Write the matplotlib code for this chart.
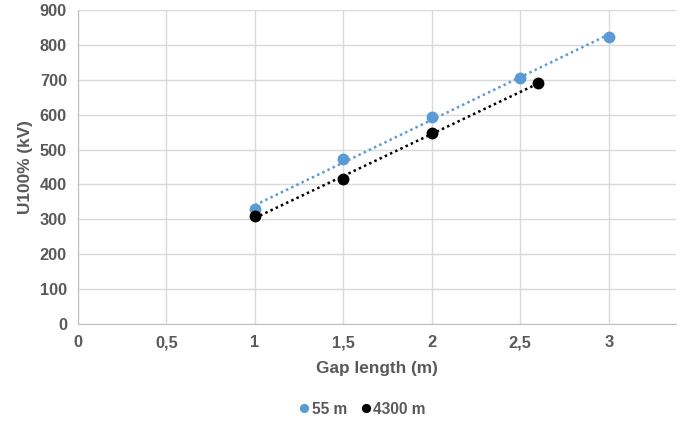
import numpy as np
import matplotlib
matplotlib.use("Agg")
import matplotlib.pyplot as plt
from matplotlib.ticker import FuncFormatter, MultipleLocator

plt.rcParams['font.family'] = ['Liberation Sans', 'DejaVu Sans']

x_55 = [1.0, 1.5, 2.0, 2.5, 3.0]
y_55 = [329, 473, 594, 706, 824]
x_4300 = [1.0, 1.5, 2.0, 2.6]
y_4300 = [309, 415, 548, 690]
labels = ["55 m", "4300 m"]
colors = ["#5B9BD5", "#000000"]

fig = plt.figure(figsize=(6.83, 4.26), dpi=100)
ax = fig.add_axes([78/683, 1-324/426, (676-78)/683, (324-10)/426])

gray = "#595959"
grid = "#D9D9D9"

for xs, ys, lab, c in [(x_55, y_55, labels[0], colors[0]), (x_4300, y_4300, labels[1], colors[1])]:
    xs = np.array(xs); ys = np.array(ys)
    p = np.polyfit(xs, ys, 1)
    xl = np.array([xs.min(), xs.max()])
    ax.plot(xl, np.polyval(p, xl), linestyle=(0, (1, 1.3)), color=c, lw=1.8, zorder=2)
    ax.plot(xs, ys, 'o', color=c, ms=7.5, label=lab, zorder=3, linestyle='none')

ax.set_xlim(0, 3.38)
ax.set_ylim(0, 900)
ax.xaxis.set_major_locator(MultipleLocator(0.5))
ax.yaxis.set_major_locator(MultipleLocator(100))
ax.xaxis.set_major_formatter(FuncFormatter(lambda v, p: ("%g" % v).replace('.', ',')))
ax.grid(True, color=grid, lw=1)
ax.set_axisbelow(True)
for s in ['top', 'right']:
    ax.spines[s].set_visible(False)
for s in ['left', 'bottom']:
    ax.spines[s].set_color("#BFBFBF")
ax.tick_params(length=0, colors=gray, labelsize=11.8, pad=8)
for t in ax.get_xticklabels() + ax.get_yticklabels():
    t.set_fontweight('bold')

ax.set_xlabel("Gap length (m)", fontsize=12.4, fontweight='bold', color=gray, labelpad=8)
ax.set_ylabel("U100% (kV)", fontsize=12.4, fontweight='bold', color=gray, labelpad=5)

leg = fig.legend(loc='center', bbox_to_anchor=(361/683, 1-409/426), ncol=2, frameon=False,
                 handletextpad=0.0, columnspacing=0.7, handlelength=1.0, fontsize=11.2,
                 markerscale=0.75)
for t in leg.get_texts():
    t.set_color(gray)
    t.set_fontweight('bold')

fig.savefig("out.png", dpi=100)
